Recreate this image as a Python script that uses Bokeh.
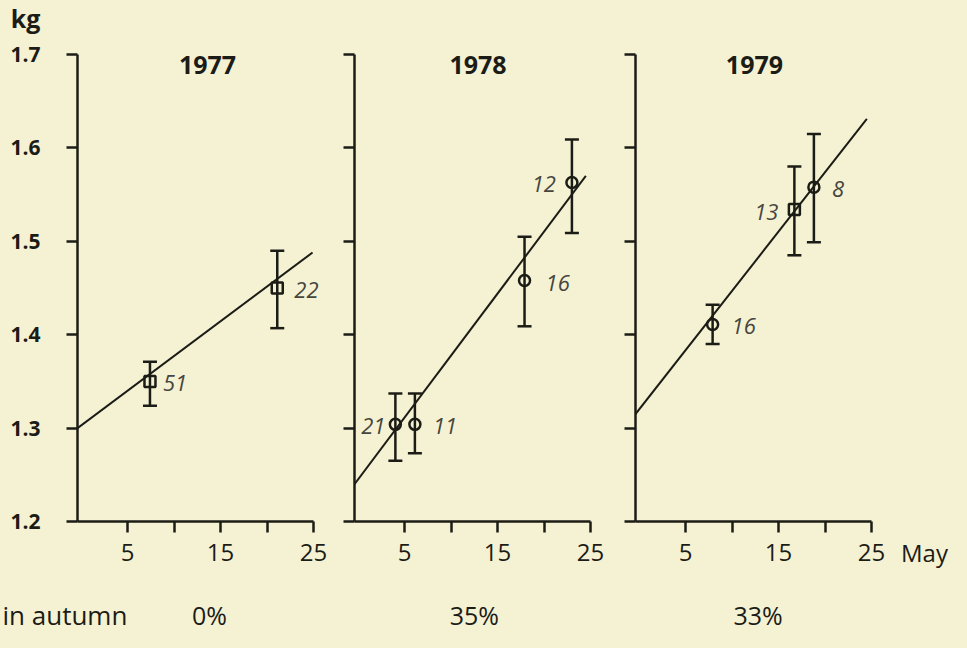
from bokeh.plotting import figure
from bokeh.layouts import row, column
from bokeh.models import (Whisker, TeeHead, ColumnDataSource, Label, FixedTicker,
                          GlobalInlineStyleSheet)
from bokeh.core.properties import value
from bokeh.embed import file_html
from bokeh.resources import INLINE

# ---------------- data ----------------
years = ["1977", "1978", "1979"]
autumn_label = "in autumn"
autumn_pct = ["0%", "35%", "33%"]
y_unit = "kg"
x_unit = "May"
x_major = [5, 15, 25]
x_minor = [10, 20]
y_ticks = [1.2, 1.3, 1.4, 1.5, 1.6, 1.7]

day_1977 = [7.4, 21.1]
mean_1977 = [1.350, 1.450]
upper_1977 = [1.371, 1.490]
lower_1977 = [1.324, 1.407]
n_1977 = ["51", "22"]
marker_1977 = ["square", "square"]
trend_day_1977 = [-0.4, 24.9]
trend_kg_1977 = [1.300, 1.488]

day_1978 = [4.0, 6.1, 17.9, 23.0]
mean_1978 = [1.304, 1.304, 1.458, 1.563]
upper_1978 = [1.337, 1.337, 1.505, 1.609]
lower_1978 = [1.265, 1.273, 1.409, 1.509]
n_1978 = ["21", "11", "16", "12"]
marker_1978 = ["circle", "circle", "circle", "circle"]
trend_day_1978 = [-0.4, 24.5]
trend_kg_1978 = [1.240, 1.570]

day_1979 = [7.9, 16.7, 18.8]
mean_1979 = [1.411, 1.534, 1.558]
upper_1979 = [1.432, 1.580, 1.615]
lower_1979 = [1.390, 1.485, 1.499]
n_1979 = ["16", "13", "8"]
marker_1979 = ["circle", "square", "circle"]
trend_day_1979 = [-0.4, 24.5]
trend_kg_1979 = [1.315, 1.631]

# ---------------- style / layout ----------------
BG = "#f5f2d4"
INK = "#1c1c16"
NGRAY = "#46463e"
FONT = "Open Sans"
TICK_FS = "24px"
X0, XAX_END = -0.4, 25.0
Y0, Y1 = 1.2, 1.7
AX_W = 236                       # px from y axis to x=25
PX_PER_DAY = AX_W / (XAX_END - X0)
TOP_H, ROW_H, BOT_H = 38, 540, 54
FRAME_TOP, FRAME_H = 16, 467
FRAME_BOT = ROW_H - FRAME_TOP - FRAME_H
AXIS_X = [77, 354, 635]          # canvas x of each y axis
FIG_W = [334, 281, 280]          # figure widths in the row
FIG_LEFT = [77, 20, 20]          # left borders
MAY_W = 951 - sum(FIG_W)
X_STANDOFF = 11

n_offsets = [
    [(13, "left"), (17, "left")],
    [(-10, "right"), (18, "left"), (21, "left"), (-16, "right")],
    [(19, "left"), (-16, "right"), (18, "left")],
]
year_day = [13.6, 12.9, 12.4]
year_kg = 1.689
pct_day = [13.8, 12.5, 12.8]

panels = [
    (day_1977, mean_1977, upper_1977, lower_1977, n_1977, marker_1977, trend_day_1977, trend_kg_1977),
    (day_1978, mean_1978, upper_1978, lower_1978, n_1978, marker_1978, trend_day_1978, trend_kg_1978),
    (day_1979, mean_1979, upper_1979, lower_1979, n_1979, marker_1979, trend_day_1979, trend_kg_1979),
]


def style_axis(ax):
    ax.axis_line_color = INK
    ax.axis_line_width = 2.5
    for pre in ("major", "minor"):
        setattr(ax, f"{pre}_tick_line_color", INK)
        setattr(ax, f"{pre}_tick_line_width", 2.5)
        setattr(ax, f"{pre}_tick_in", 0)
        setattr(ax, f"{pre}_tick_out", 11)
    ax.major_label_text_font = FONT
    ax.major_label_text_font_size = TICK_FS
    ax.major_label_text_color = INK


figs = []
for i, (d, m, up, lo, n, mk, td, tk) in enumerate(panels):
    frame_w = FIG_W[i] - FIG_LEFT[i]
    x_end = X0 + frame_w / PX_PER_DAY
    p = figure(width=FIG_W[i], height=ROW_H, x_range=(X0, x_end), y_range=(Y0, Y1),
               min_border_left=FIG_LEFT[i], min_border_right=0,
               min_border_top=FRAME_TOP, min_border_bottom=FRAME_BOT,
               output_backend="svg", toolbar_location=None)
    p.background_fill_color = BG
    p.border_fill_color = BG
    p.outline_line_color = None
    p.grid.visible = False
    style_axis(p.xaxis[0])
    style_axis(p.yaxis[0])

    p.xaxis.bounds = (X0, XAX_END)
    p.xaxis.ticker = FixedTicker(ticks=x_major, minor_ticks=x_minor)
    p.xaxis.major_label_standoff = X_STANDOFF
    if i == 0:
        p.yaxis.ticker = FixedTicker(ticks=y_ticks)
        p.yaxis.major_label_standoff = 26
        p.yaxis.major_label_text_font_size = "21px"
        p.yaxis.major_label_text_font_style = "bold"
        p.yaxis.major_label_overrides = {t: f"{t:.1f}" for t in y_ticks}
    else:
        p.yaxis.ticker = FixedTicker(ticks=[], minor_ticks=y_ticks)

    src = ColumnDataSource(dict(x=d, y=m, upper=up, lower=lo, n=n, marker=mk))
    w = Whisker(base="x", upper="upper", lower="lower", source=src, dimension="height",
                line_color=INK, line_width=2.5, level="underlay",
                upper_head=TeeHead(size=14, line_color=INK, line_width=2.5),
                lower_head=TeeHead(size=14, line_color=INK, line_width=2.5))
    p.add_layout(w)
    p.line(td, tk, line_color=INK, line_width=2)
    p.scatter("x", "y", marker="marker", source=src, size=11, fill_color=None,
              line_color=INK, line_width=2.5)

    for j in range(len(d)):
        off, side = n_offsets[i][j]
        p.add_layout(Label(x=d[j], y=m[j], text=n[j], x_offset=off, y_offset=-2,
                           text_align=side, text_baseline="middle",
                           text_font=FONT, text_font_style="italic",
                           text_font_size="22px", text_color=NGRAY))

    p.add_layout(Label(x=year_day[i], y=year_kg, text=years[i], text_align="center",
                       text_baseline="middle", text_font=FONT, text_font_style="bold",
                       text_font_size="25px", text_color=INK))
    figs.append(p)


def strip(w, h, xloc=None, top=0, bottom=0):
    s = figure(width=w, height=h, x_range=(0, w), y_range=(0, h),
               x_axis_location=xloc, y_axis_location=None,
               output_backend="svg", toolbar_location=None)
    s.min_border_left = 0
    s.min_border_right = 0
    s.min_border_top = top
    s.min_border_bottom = bottom
    s.background_fill_color = BG
    s.border_fill_color = BG
    s.outline_line_color = None
    s.grid.visible = False
    return s


def canvas_x(i, day):
    return AXIS_X[i] + (day - X0) * PX_PER_DAY


txt = dict(text_font=value(FONT), text_color=INK, text_baseline="middle")

top = strip(951, TOP_H)
top.text(x=[25], y=[TOP_H - 17], text=[y_unit], text_align="center",
         text_font_style="bold", text_font_size="25px", **txt)

bottom = strip(951, BOT_H)
bottom.text(x=[2], y=[18], text=[autumn_label], text_align="left",
            text_font_size="26px", **txt)
bottom.text(x=[canvas_x(i, pct_day[i]) for i in range(3)], y=[18] * 3,
            text=autumn_pct, text_align="center", text_font_size="25px", **txt)

# "May" written as the tick label of an axis that lines up with the others
may = strip(MAY_W, ROW_H, xloc="below", top=FRAME_TOP, bottom=FRAME_BOT)
may_ax = may.xaxis[0]
style_axis(may_ax)
may_ax.axis_line_color = None
may_ax.major_tick_line_color = None
may_ax.minor_tick_line_color = None
may_ax.major_label_standoff = X_STANDOFF - 8
may_ax.ticker = FixedTicker(ticks=[29], minor_ticks=[])
may_ax.major_label_overrides = {29: x_unit}

layout = column(top, row(*figs, may), bottom,
                stylesheets=[GlobalInlineStyleSheet(css=f"body {{ background-color: {BG}; }}")])

open("out.html", "w").write(file_html(layout, INLINE))
